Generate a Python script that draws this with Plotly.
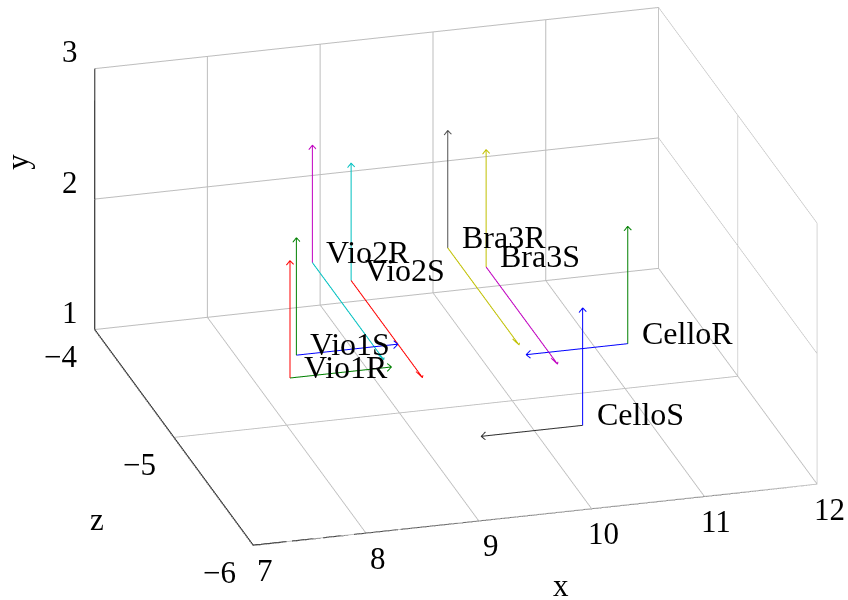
import numpy as np
import plotly.graph_objects as go

# ---- data ----
names = ["Vio1R", "Vio1S", "Vio2R", "Vio2S", "Bra3R", "Bra3S", "CelloR", "CelloS"]
pos_x = [7.84, 8.03, 8.72, 8.93, 9.92, 10.12, 10.82, 10.28]
pos_y = [1.60, 1.60, 1.60, 1.60, 1.60, 1.60, 1.60, 1.19]
pos_z = [-5.27, -5.08, -4.30, -4.49, -4.30, -4.50, -5.29, -5.49]
# "up" vectors
up_u = [0, 0, 0, 0, 0, 0, 0, 0]
up_v = [0.9, 0.9, 0.9, 0.9, 0.9, 0.9, 0.9, 0.9]
up_w = [0, 0, 0, 0, 0, 0, 0, 0]
# "forward" vectors
fw_u = [0.9, 0.9, 0, 0, 0, 0, -0.9, -0.9]
fw_v = [0, 0, 0, 0, 0, 0, 0, 0]
fw_w = [0, 0, -0.9, -0.9, -0.9, -0.9, 0, 0]
up_colors = ["#ff0000", "#008000", "#c000c0", "#00c0c0", "#505050", "#c0c000", "#008000", "#0000ff"]
fw_colors = ["#008000", "#0000ff", "#00c0c0", "#ff0000", "#c0c000", "#c000c0", "#0000ff", "#303030"]

x_ticks = [7, 8, 9, 10, 11, 12]
y_ticks = [1, 2, 3]
z_ticks = [-6, -5, -4]

FONT = "Liberation Serif"
FS = 32
FT = 31

fig = go.Figure()

def wings(d):
    d = np.asarray(d, float)
    du = d / np.linalg.norm(d)
    if abs(du[1]) > 0.5:      # vertical
        p = np.array([0.032, 0, 0]); back = 0.032
    elif abs(du[0]) > 0.5:    # along x
        p = np.array([0, 0.03, 0]); back = 0.038
    else:                     # along z
        p = np.array([0.03, -0.017, 0]); back = 0.038
    return du * back, p

def add_arrow(o, d, color):
    o = np.asarray(o, float)
    d = np.asarray(d, float)
    t = o + d
    b, p = wings(d)
    w1 = t - b + p
    w2 = t - b - p
    xs = [o[0], t[0], None, w1[0], t[0], w2[0]]
    ys = [o[1], t[1], None, w1[1], t[1], w2[1]]
    zs = [o[2], t[2], None, w1[2], t[2], w2[2]]
    # plotly: x=data x, y=data z, z=data y (vertical)
    fig.add_trace(go.Scatter3d(x=xs, y=zs, z=ys, mode="lines",
                               line=dict(color=color, width=2),
                               hoverinfo="skip", showlegend=False))

for i in range(len(names)):
    o = (pos_x[i], pos_y[i], pos_z[i])
    add_arrow(o, (up_u[i], up_v[i], up_w[i]), up_colors[i])
    add_arrow(o, (fw_u[i], fw_v[i], fw_w[i]), fw_colors[i])

x0, x1 = x_ticks[0], x_ticks[-1]
y0, y1 = y_ticks[0], y_ticks[-1]
z0, z1 = z_ticks[0], z_ticks[-1]

# axis lines
fig.add_trace(go.Scatter3d(x=[x0, x1, None, x0, x0, None, x0, x0],
                           y=[z0, z0, None, z0, z1, None, z1, z1],
                           z=[y0, y0, None, y0, y0, None, y0, y1],
                           mode="lines", line=dict(color="black", width=2.5),
                           hoverinfo="skip", showlegend=False))

ann = []
for i, nm in enumerate(names):
    ann.append(dict(x=pos_x[i], y=pos_z[i], z=pos_y[i], text=nm,
                    xanchor="left", yanchor="bottom", xshift=12, yshift=-9,
                    font=dict(family=FONT, size=FS, color="black")))
for t in x_ticks:
    ann.append(dict(x=t, y=z0, z=y0, text=str(t), xshift=12, yshift=-25))
for t in y_ticks:
    ann.append(dict(x=x0, y=z1, z=t, text=str(t), xshift=-25, yshift=17))
for t in z_ticks:
    ann.append(dict(x=x0, y=t, z=y0, text=str(t).replace("-", "\u2212"), xshift=-34, yshift=-27))
ann.append(dict(x=(x0 + x1) / 2, y=z0, z=y0, text="x", xshift=26, yshift=-71))
ann.append(dict(x=x0, y=z1, z=(y0 + y1) / 2, text="y", xshift=-77, yshift=37, textangle=-90))
ann.append(dict(x=x0, y=(z0 + z1) / 2, z=y0, text="z", xshift=-77, yshift=-82))
for a in ann:
    a.setdefault("font", dict(family=FONT, size=FT, color="black"))
    a.update(showarrow=False)

def ax(rng, tv):
    return dict(range=rng, tickvals=tv, showticklabels=False, title=dict(text=""),
                showgrid=True, gridcolor="#bdbdbd", gridwidth=2,
                showbackground=False, zeroline=False, showline=False,
                showspikes=False, ticks="", autorange=False)

# orthographic camera matching the reference view
d = np.array([-0.2509, -0.8885, 0.3843])
d = d / np.linalg.norm(d)
r = np.array([0.9624, -0.2718, 0.0])
u = np.array([0.10445, 0.36985, 0.92321])
k = 2.007 * 584 / 600
dist = 3.0
center = -(31 / 292) * r - (23 / 292) * u
eye = center + dist * d

fig.update_layout(
    width=848, height=600,
    margin=dict(l=0, r=0, t=0, b=0),
    paper_bgcolor="white",
    scene=dict(
        xaxis=ax([x0, x1], x_ticks),
        yaxis=ax([z0, z1], z_ticks),
        zaxis=ax([y0, y1], y_ticks),
        aspectmode="manual",
        aspectratio=dict(x=1.0 * k, y=0.9954 * k, z=0.4822 * k),
        camera=dict(projection=dict(type="orthographic"),
                    up=dict(x=0, y=0, z=1),
                    center=dict(x=center[0], y=center[1], z=center[2]),
                    eye=dict(x=eye[0], y=eye[1], z=eye[2])),
        bgcolor="white",
        annotations=ann,
        domain=dict(x=[0, 1], y=[0, 1]),
    ),
)

fig.write_html("out.html", config={"displayModeBar": False},
               post_script="document.body.style.margin='0px';")
